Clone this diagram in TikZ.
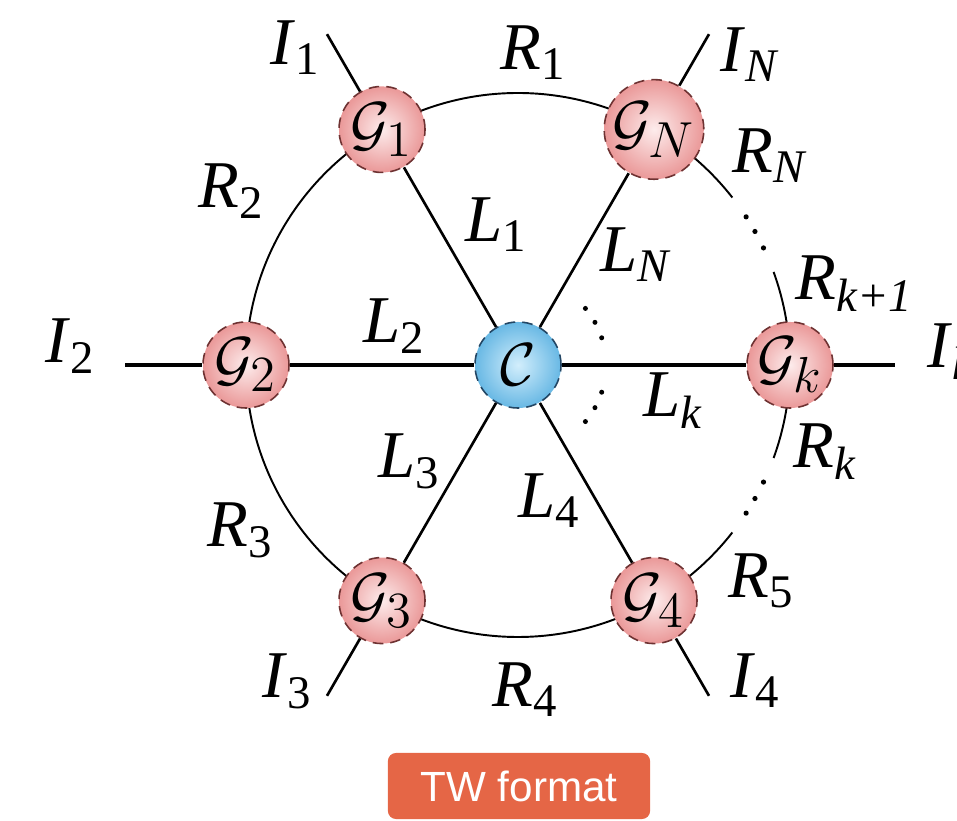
\documentclass[tikz,border=0pt]{standalone}
\usepackage{fontspec}
\setmainfont{Liberation Serif}
\newfontfamily\btnfont{Liberation Sans}
\usetikzlibrary{calc}

\newcommand{\lab}[2]{\textit{#1}\textsubscript{#2}}

\begin{document}
\begin{tikzpicture}[x=0.01cm,y=0.01cm,
  every node/.style={font=\fontsize{19}{22}\selectfont},
  gnode/.style={circle,minimum size=0.86cm,inner sep=0pt,draw=gedge,
    densely dashed,line width=0.45pt,inner color=gin,outer color=gout},
  cnode/.style={gnode,draw=cedge,inner color=cin,outer color=cout},
  spoke/.style={line width=0.75pt},
  hspoke/.style={line width=1pt},
  ring/.style={line width=0.55pt},
  lbl/.style={anchor=base west,inner sep=0pt},
  btn/.style={rounded corners=2.3pt,fill=btnorange,text=white,
    minimum width=2.62cm,minimum height=0.66cm,inner sep=0pt,
    font=\btnfont\fontsize{12}{14}\selectfont}]
  \definecolor{gin}{RGB}{253,236,236}
  \definecolor{gout}{RGB}{234,152,152}
  \definecolor{gedge}{RGB}{110,50,50}
  \definecolor{cin}{RGB}{210,238,252}
  \definecolor{cout}{RGB}{104,184,228}
  \definecolor{cedge}{RGB}{35,70,100}
  \definecolor{btnorange}{RGB}{229,102,70}
  \def\ringR{272}
  \useasboundingbox (0,0) rectangle (957,821);

  % hub and outer ends
  \coordinate (C) at (518,456);
  \coordinate (i1) at ($(C)+(120:382)$);
  \coordinate (iN) at ($(C)+(60:382)$);
  \coordinate (i2) at ($(C)+(180:393)$);
  \coordinate (ik) at ($(C)+(0:377)$);
  \coordinate (i3) at ($(C)+(240:382)$);
  \coordinate (i4) at ($(C)+(300:382)$);

  % ring (drawn first, the nodes cover it)
  \draw[ring] (C) ++(180:\ringR) arc (180:60:\ringR);
  \draw[ring] (C) ++(180:\ringR) arc (180:300:\ringR);
  \draw[ring] (C) ++(60:\ringR) arc (60:38:\ringR);
  \draw[ring] (C) ++(20:\ringR) arc (20:-20:\ringR);
  \draw[ring] (C) ++(-38:\ringR) arc (-38:-60:\ringR);
  \foreach \a in {25.5,29.4,33,-25.5,-29.4,-33}
    \fill ($(C)+(\a:\ringR)$) circle (2.6);
  \foreach \a in {18,29,40,-18,-29,-40}
    \fill ($(C)+(\a:88)$) circle (2.5);

  \node[cnode] (hub) at (C) {$\mathcal{C}$};
  \node[gnode] (g1) at ($(C)+(120:\ringR)$) {$\mathcal{G}_1$};
  \node[gnode] (gN) at ($(C)+(60:\ringR)$) {$\mathcal{G}_N$};
  \node[gnode] (g2) at ($(C)+(180:\ringR)$) {$\mathcal{G}_2$};
  \node[gnode] (gk) at ($(C)+(0:\ringR)$) {$\mathcal{G}_k$};
  \node[gnode] (g3) at ($(C)+(240:\ringR)$) {$\mathcal{G}_3$};
  \node[gnode] (g4) at ($(C)+(300:\ringR)$) {$\mathcal{G}_4$};

  % spokes
  \draw[spoke] (hub) -- (g1);
  \draw[spoke] (hub) -- (gN);
  \draw[hspoke] (hub) -- (g2);
  \draw[hspoke] (hub) -- (gk);
  \draw[spoke] (hub) -- (g3);
  \draw[spoke] (hub) -- (g4);
  \draw[spoke] (g1) -- (i1);
  \draw[spoke] (gN) -- (iN);
  \draw[hspoke] (g2) -- (i2);
  \draw[hspoke] (gk) -- (ik);
  \draw[spoke] (g3) -- (i3);
  \draw[spoke] (g4) -- (i4);

  % labels
  \node[lbl] (tI1) at (270,756) {\lab{I}{1}};
  \node[lbl] (tR1) at (500,751) {\lab{R}{1}};
  \node[lbl] (tIN) at (720,749) {\lab{I}{\textit{N}}};
  \node[lbl] (tR2) at (198,613) {\lab{R}{2}};
  \node[lbl] (tRN) at (732,648) {\lab{R}{\textit{N}}};
  \node[lbl] (tL1) at (465,579) {\lab{L}{1}};
  \node[lbl] (tLN) at (600,549) {\lab{L}{\textit{N}}};
  \node[lbl] (tRk1) at (795,521) {\lab{R}{\textit{k+1}}};
  \node[lbl] (tL2) at (363,478) {\lab{L}{2}};
  \node[lbl] (tI2) at (45,458) {\lab{I}{2}};
  \node[lbl] (tIk) at (927,453) {\lab{I}{\textit{k}}};
  \node[lbl] (tLk) at (643,404) {\lab{L}{\textit{k}}};
  \node[lbl] (tRk) at (793,353) {\lab{R}{\textit{k}}};
  \node[lbl] (tL3) at (378,343) {\lab{L}{3}};
  \node[lbl] (tL4) at (518,303) {\lab{L}{4}};
  \node[lbl] (tR3) at (207,274) {\lab{R}{3}};
  \node[lbl] (tR5) at (728,223) {\lab{R}{5}};
  \node[lbl] (tI3) at (262,123) {\lab{I}{3}};
  \node[lbl] (tR4) at (492,114) {\lab{R}{4}};
  \node[lbl] (tI4) at (730,123) {\lab{I}{4}};

  \node[btn] (tw) at (519,35) {TW format};
\end{tikzpicture}
\end{document}
